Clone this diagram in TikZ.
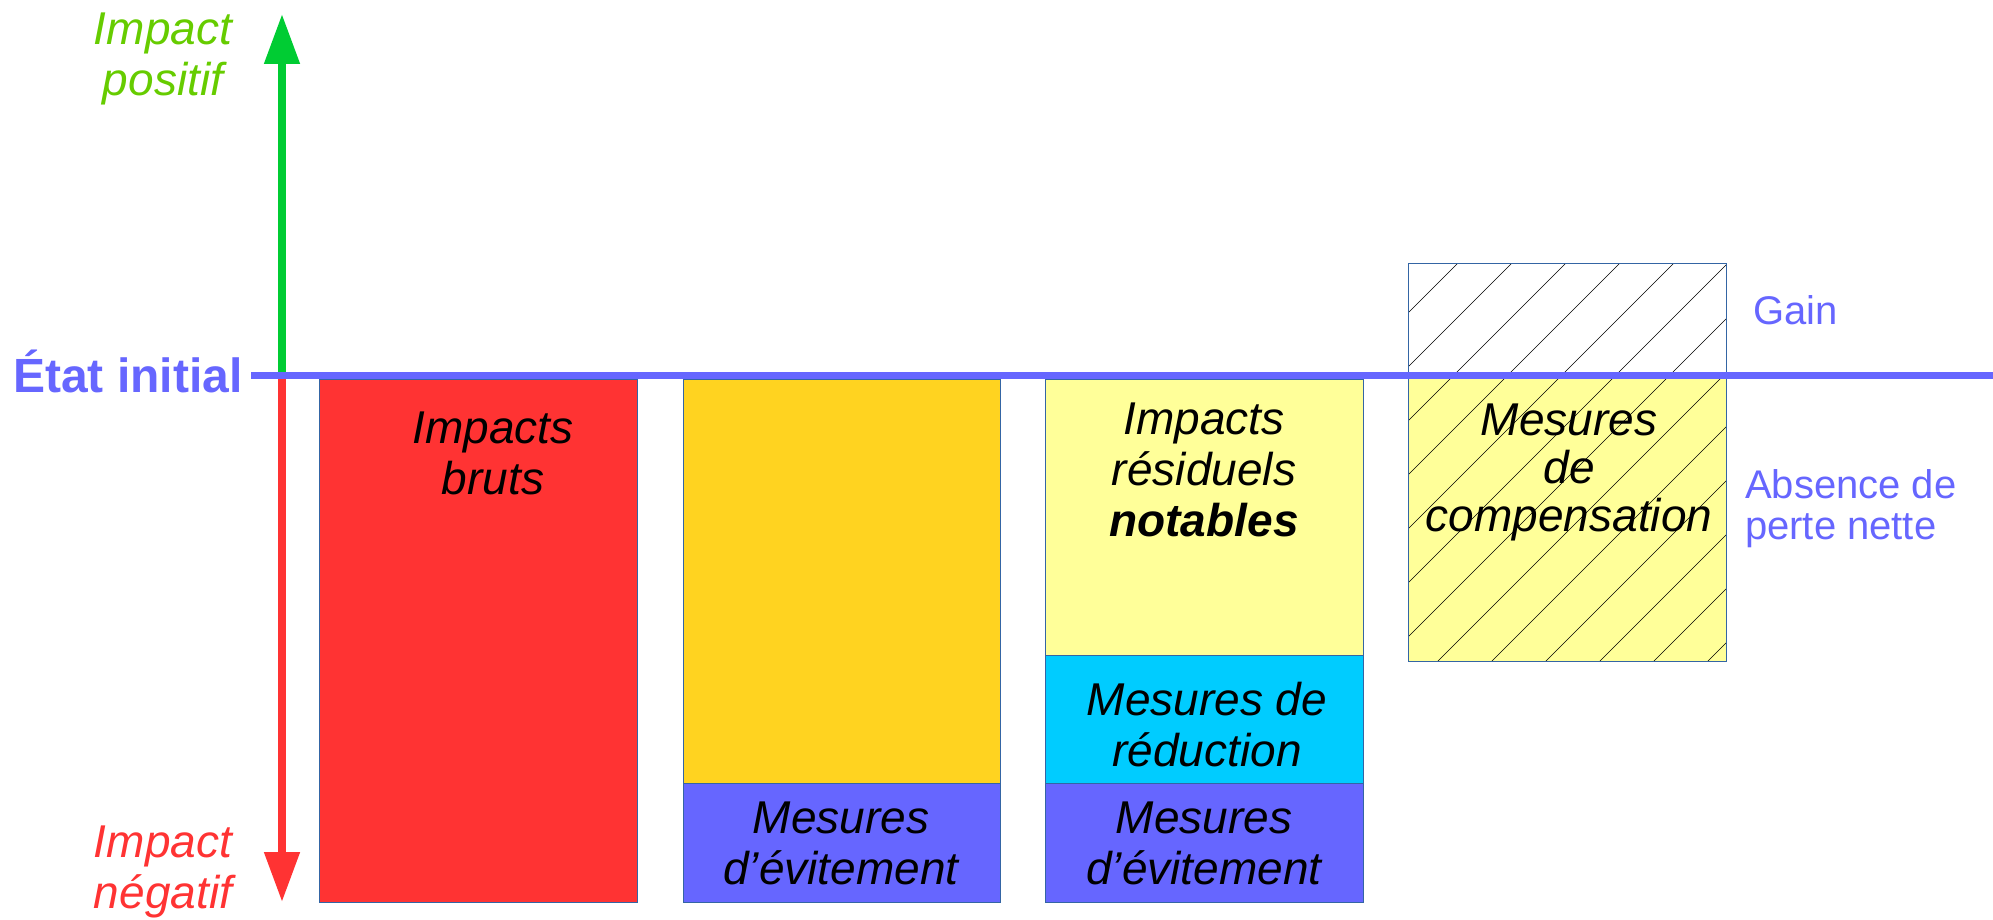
\documentclass[tikz,border=0pt]{standalone}
\usepackage{fontspec}
\setmainfont{Liberation Sans}
\usetikzlibrary{arrows.meta}
\definecolor{rouge}{HTML}{FF3333}
\definecolor{orangeclair}{HTML}{FFD320}
\definecolor{bleu}{HTML}{6666FF}
\definecolor{jaunepale}{HTML}{FFFF99}
\definecolor{cyanclair}{HTML}{00CCFF}
\definecolor{vert}{HTML}{00CC33}
\definecolor{vertclair}{HTML}{66CC00}
\definecolor{bordure}{HTML}{3465A4}
\begin{document}
\begin{tikzpicture}[x=0.5pt,y=-0.5pt,
    bloc/.style={draw=bordure,line width=0.5pt},
    etiquette/.style={align=center,font=\fontsize{23}{25.5}\selectfont\itshape},
    legende/.style={align=left,text=bleu,font=\fontsize{20}{20.5}\selectfont},
    fleche/.style={line width=4pt,-{Triangle[length=25pt,width=17pt]}}]
    \useasboundingbox (0,0) rectangle (1993,920);

    \draw[bloc,fill=rouge] (319,379) rectangle (637,902);
    \draw[bloc,fill=orangeclair] (683,379) rectangle (1000,783);
    \draw[bloc,fill=bleu] (683,783) rectangle (1000,902);
    \draw[bloc,fill=jaunepale] (1045,379) rectangle (1363,655);
    \draw[bloc,fill=cyanclair] (1045,655) rectangle (1363,783);
    \draw[bloc,fill=bleu] (1045,783) rectangle (1363,902);
    \fill[jaunepale] (1408,375) rectangle (1726,661);
    \begin{scope}
        \clip (1408,263) rectangle (1726,661);
        \foreach \k in {1667,1721,...,2387}
            \draw[line width=0.3pt] (\k-700,700) -- (\k-200,200);
    \end{scope}
    \draw[bloc] (1408,263) rectangle (1726,661);

    \coordinate (origine) at (282,375);
    \coordinate (haut) at (282,14);
    \coordinate (depart) at (282,379);
    \coordinate (bas) at (282,902);
    \coordinate (gauche) at (251,375);
    \coordinate (droite) at (1993,375);
    \draw[fleche,vert] (origine) -- (haut);
    \draw[fleche,rouge] (depart) -- (bas);
    \draw[bleu,line width=3.5pt] (gauche) -- (droite);

    \node[etiquette,text=vertclair] (positif) at (163,59) {Impact\\positif};
    \node[etiquette,text=rouge] (negatif) at (163,872) {Impact\\négatif};
    \node[left,text=bleu,font=\fontsize{24}{26}\selectfont\bfseries,inner sep=0pt] (initial) at (243,371) {État initial};

    \node[etiquette] (bruts) at (493,453) {Impacts\\bruts};
    \node[etiquette] (evitement1) at (841,843) {Mesures\\d’évitement};
    \node[etiquette] (residuels) at (1204,470) {Impacts\\résiduels\\\textbf{notables}};
    \node[etiquette] (reduction) at (1207,725) {Mesures de\\réduction};
    \node[etiquette] (evitement2) at (1204,843) {Mesures\\d’évitement};
    \node[etiquette,font=\fontsize{23}{24}\selectfont\itshape] (compensation) at (1569,472) {Mesures\\de\\compensation};

    \node[legende,anchor=west] (gain) at (1746,310) {Gain};
    \node[legende,anchor=west] (absence) at (1738,509) {Absence de\\perte nette};
\end{tikzpicture}
\end{document}
